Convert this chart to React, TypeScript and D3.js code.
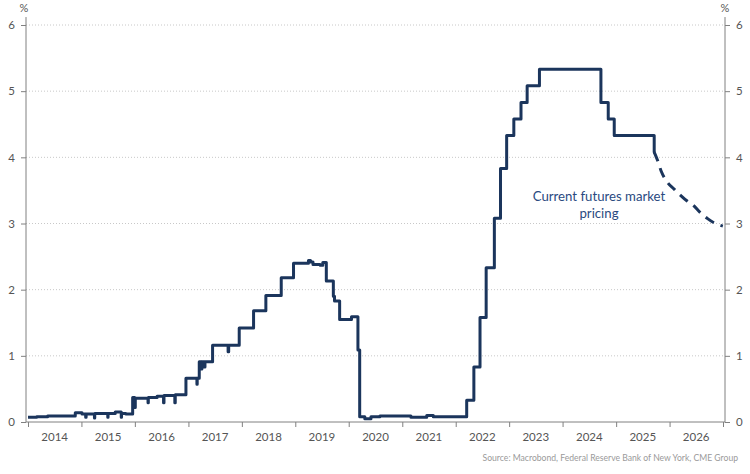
import React from 'react';
import * as d3 from 'd3';

// effective fed funds rate: [date, value] change points (step after)
const rateDates: string[] = [
  '2014-01-01', '2014-03-01', '2014-05-15', '2014-07-01', '2014-11-20', '2015-01-05',
  '2015-01-30', '2015-02-02', '2015-03-31', '2015-04-02', '2015-06-30', '2015-07-02',
  '2015-08-20', '2015-09-30', '2015-10-02', '2015-11-01', '2015-12-17', '2015-12-31',
  '2016-01-04', '2016-03-31', '2016-04-02', '2016-06-01', '2016-07-15', '2016-07-18',
  '2016-09-30', '2016-10-03', '2016-12-15', '2017-02-28', '2017-03-02', '2017-03-16',
  '2017-03-31', '2017-04-03', '2017-04-20', '2017-04-24', '2017-06-15', '2017-09-29',
  '2017-10-03', '2017-12-14', '2018-03-22', '2018-06-14', '2018-09-27', '2018-12-20',
  '2019-04-01', '2019-04-15', '2019-05-02', '2019-06-20', '2019-07-08', '2019-08-01',
  '2019-09-18', '2019-09-26', '2019-10-31', '2020-01-20', '2020-03-04', '2020-03-16',
  '2020-04-20', '2020-06-01', '2020-08-01', '2021-01-15', '2021-03-01', '2021-06-17',
  '2021-08-01', '2022-03-17', '2022-05-05', '2022-06-16', '2022-07-28', '2022-09-22',
  '2022-11-03', '2022-12-15', '2023-02-02', '2023-03-23', '2023-05-04', '2023-07-27',
  '2024-09-19', '2024-11-08', '2024-12-19', '2025-09-18'
];
const rateValues: number[] = [
  0.07, 0.08, 0.09, 0.09, 0.14, 0.12,
  0.07, 0.12, 0.06, 0.13, 0.07, 0.13,
  0.15, 0.07, 0.13, 0.12, 0.37, 0.22,
  0.36, 0.29, 0.37, 0.39, 0.29, 0.40,
  0.29, 0.41, 0.66, 0.57, 0.66, 0.91,
  0.80, 0.91, 0.83, 0.91, 1.16, 1.06,
  1.16, 1.42, 1.68, 1.91, 2.18, 2.40,
  2.44, 2.42, 2.38, 2.37, 2.41, 2.13,
  1.90, 1.83, 1.55, 1.59, 1.09, 0.08,
  0.05, 0.08, 0.09, 0.09, 0.07, 0.10,
  0.08, 0.33, 0.83, 1.58, 2.33, 3.08,
  3.83, 4.33, 4.58, 4.83, 5.08, 5.33,
  4.83, 4.58, 4.33, 4.08
];
const rateEnd = '2025-09-19';

// futures market pricing
const futuresDates: string[] = [
  '2025-09-18', '2025-10-10', '2025-11-05', '2025-12-15', '2026-02-01', '2026-03-15',
  '2026-05-01', '2026-06-10', '2026-08-01', '2026-09-20', '2026-11-01', '2026-12-31'
];
const futuresValues: number[] = [4.08, 3.96, 3.79, 3.63, 3.52, 3.43, 3.34, 3.28, 3.16, 3.07, 3.01, 2.96];

const years: number[] = d3.range(2014, 2027);
const yTicks: number[] = [0, 1, 2, 3, 4, 5, 6];
const source = 'Source: Macrobond, Federal Reserve Bank of New York, CME Group';
const note = ['Current futures market', 'pricing'];

const FONT = 'Lato, "Open Sans", sans-serif';
const NAVY = '#1b355c';

const App: React.FC = () => {
  const svgRef = React.useRef<SVGSVGElement>(null);
  const width = 750;
  const height = 474;

  React.useEffect(() => {
    document.body.style.margin = '0';
    if (!svgRef.current) return;
    const svg = d3.select(svgRef.current);
    svg.selectAll('*').remove();

    const left = 26;
    const right = 725;
    const parse = d3.timeParse('%Y-%m-%d');

    const x = d3.scaleTime()
      .domain([new Date(2014, 0, 1), new Date(2027, 0, 1)])
      .range([28, 723]);
    const y = d3.scaleLinear().domain([0, 6]).range([422, 25]);

    // grid
    svg.append('g')
      .selectAll('line')
      .data(yTicks.filter(d => d > 0))
      .enter().append('line')
      .attr('x1', left).attr('x2', right)
      .attr('y1', d => y(d)).attr('y2', d => y(d))
      .attr('stroke', '#c8c8c8')
      .attr('stroke-width', 1)
      .attr('stroke-dasharray', '1,2');

    // y axes
    const styleAxis = (g: d3.Selection<SVGGElement, unknown, null, undefined>) => {
      g.select('.domain').remove();
      g.selectAll('line').attr('stroke', '#808080');
      g.selectAll('text').attr('fill', '#555').style('font-family', FONT).style('font-size', '11.5px');
    };
    svg.append('g')
      .attr('transform', `translate(${left},0)`)
      .call(d3.axisLeft(y).tickValues(yTicks).tickSize(5).tickPadding(6).tickFormat(d3.format('d')))
      .call(styleAxis);
    svg.append('g')
      .attr('transform', `translate(${right},0)`)
      .call(d3.axisRight(y).tickValues(yTicks).tickSize(5).tickPadding(6).tickFormat(d3.format('d')))
      .call(styleAxis);

    [left, right].forEach(px => {
      svg.append('line')
        .attr('x1', px).attr('x2', px)
        .attr('y1', y(6.12)).attr('y2', y(0))
        .attr('stroke', '#808080').attr('stroke-width', 1);
    });

    // x axis
    const xa = svg.append('g')
      .attr('transform', `translate(0,${y(0)})`)
      .call(d3.axisBottom(x)
        .tickValues(d3.range(2014, 2028).map(yr => new Date(yr, 0, 1)))
        .tickSize(5)
        .tickFormat(() => ''));
    xa.select('.domain').remove();
    xa.selectAll('line').attr('stroke', '#808080');
    svg.append('line')
      .attr('x1', left).attr('x2', right)
      .attr('y1', y(0)).attr('y2', y(0))
      .attr('stroke', '#808080');

    svg.append('g')
      .selectAll('text')
      .data(years)
      .enter().append('text')
      .attr('x', d => x(new Date(d, 6, 2)))
      .attr('y', 441)
      .attr('text-anchor', 'middle')
      .attr('fill', '#555')
      .style('font-family', FONT)
      .style('font-size', '11.5px')
      .text(d => d);

    // % labels
    [left - 2, right].forEach(px => {
      svg.append('text')
        .attr('x', px).attr('y', 12)
        .attr('text-anchor', 'middle')
        .attr('fill', '#555')
        .style('font-family', FONT)
        .style('font-size', '11px')
        .text('%');
    });

    // series
    const rate: [Date, number][] = rateDates.map((d, i) => [parse(d) as Date, rateValues[i]]);
    rate.push([parse(rateEnd) as Date, rateValues[rateValues.length - 1]]);
    const stepLine = d3.line<[Date, number]>()
      .x(d => x(d[0]))
      .y(d => y(d[1]))
      .curve(d3.curveStepAfter);
    svg.append('path')
      .datum(rate)
      .attr('d', stepLine)
      .attr('fill', 'none')
      .attr('stroke', NAVY)
      .attr('stroke-width', 3)
      .attr('stroke-linejoin', 'round');

    const fut: [Date, number][] = futuresDates.map((d, i) => [parse(d) as Date, futuresValues[i]]);
    const smooth = d3.line<[Date, number]>()
      .x(d => x(d[0]))
      .y(d => y(d[1]))
      .curve(d3.curveMonotoneX);
    svg.append('path')
      .datum(fut)
      .attr('d', smooth)
      .attr('fill', 'none')
      .attr('stroke', NAVY)
      .attr('stroke-width', 3)
      .attr('stroke-dasharray', '10,7');

    // annotation
    svg.append('g')
      .selectAll('text')
      .data(note)
      .enter().append('text')
      .attr('x', 599)
      .attr('y', (d, i) => 201 + i * 17)
      .attr('text-anchor', 'middle')
      .attr('fill', '#2a4a7f')
      .style('font-family', FONT)
      .style('font-size', '13.2px')
      .text(d => d);

    svg.append('text')
      .attr('x', 738)
      .attr('y', 461)
      .attr('text-anchor', 'end')
      .attr('fill', '#9a9a9a')
      .style('font-family', FONT)
      .style('font-size', '8.6px')
      .text(source);
  }, []);

  return <svg ref={svgRef} width={width} height={height} style={{ display: 'block', background: '#fff' }} />;
};

export default App;
